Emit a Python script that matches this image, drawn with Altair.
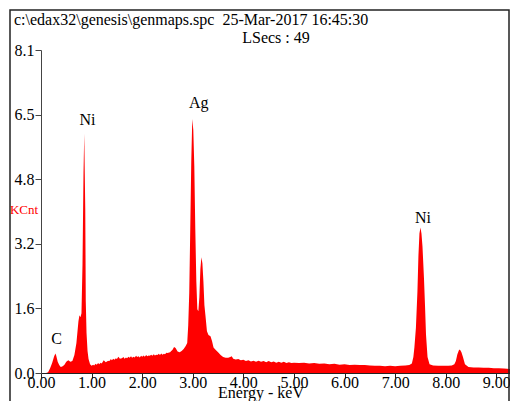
import altair as alt
import pandas as pd

# Spectrum (energy keV, counts in KCnt)
energy = [0.00, 0.10, 0.14, 0.18, 0.22, 0.26, 0.285, 0.30, 0.33, 0.36, 0.39, 0.42, 0.46, 0.50,
          0.54, 0.58, 0.62, 0.66, 0.70, 0.74, 0.76, 0.78, 0.80, 0.82, 0.84, 0.855, 0.865, 0.875,
          0.885, 0.90, 0.92, 0.94, 0.97, 1.00, 1.03, 1.05, 1.08, 1.10, 1.13, 1.15, 1.18, 1.20,
          1.24, 1.28, 1.32, 1.36, 1.38, 1.40, 1.43, 1.45, 1.48, 1.50, 1.53, 1.56, 1.60, 1.63,
          1.65, 1.68, 1.70, 1.73, 1.75, 1.78, 1.80, 1.83, 1.85, 1.88, 1.90, 1.93, 1.95, 1.98,
          2.00, 2.03, 2.05, 2.08, 2.10, 2.13, 2.15, 2.18, 2.20, 2.23, 2.25, 2.28, 2.30, 2.33,
          2.35, 2.38, 2.40, 2.43, 2.45, 2.48, 2.50, 2.55, 2.60, 2.63, 2.66, 2.70, 2.74, 2.78,
          2.82, 2.86, 2.89, 2.91, 2.93, 2.95, 2.97, 2.99, 3.01, 3.03, 3.05, 3.07, 3.09, 3.11,
          3.13, 3.15, 3.17, 3.19, 3.21, 3.23, 3.25, 3.28, 3.31, 3.35, 3.38, 3.41, 3.45, 3.50,
          3.55, 3.60, 3.65, 3.70, 3.74, 3.77, 3.80, 3.85, 3.90, 3.95, 4.00, 4.05, 4.10, 4.15,
          4.20, 4.25, 4.30, 4.35, 4.40, 4.45, 4.50, 4.55, 4.60, 4.65, 4.70, 4.75, 4.80, 4.85,
          4.90, 4.95, 5.00, 5.10, 5.20, 5.30, 5.40, 5.50, 5.60, 5.70, 5.80, 5.90, 6.00, 6.10,
          6.20, 6.30, 6.40, 6.50, 6.60, 6.70, 6.80, 6.90, 7.00, 7.10, 7.20, 7.28, 7.33, 7.36,
          7.38, 7.41, 7.44, 7.46, 7.48, 7.50, 7.52, 7.54, 7.57, 7.59, 7.61, 7.64, 7.68, 7.75,
          7.85, 7.95, 8.05, 8.12, 8.17, 8.20, 8.23, 8.26, 8.28, 8.31, 8.34, 8.38, 8.45, 8.55,
          8.65, 8.75, 8.85, 8.95, 9.05, 9.15, 9.27]
counts = [0.00, 0.00, 0.02, 0.12, 0.25, 0.42, 0.49, 0.44, 0.28, 0.20, 0.15, 0.16, 0.20, 0.28,
          0.32, 0.28, 0.30, 0.45, 0.75, 1.30, 1.45, 1.40, 1.50, 2.70, 5.00, 6.00, 5.00, 4.10,
          1.80, 1.00, 0.55, 0.35, 0.22, 0.18, 0.21, 0.19, 0.23, 0.21, 0.25, 0.22, 0.26, 0.24,
          0.32, 0.27, 0.30, 0.31, 0.35, 0.32, 0.36, 0.33, 0.37, 0.35, 0.41, 0.36, 0.37, 0.40,
          0.36, 0.39, 0.37, 0.41, 0.38, 0.42, 0.38, 0.41, 0.39, 0.43, 0.40, 0.42, 0.39, 0.43,
          0.41, 0.44, 0.41, 0.45, 0.42, 0.44, 0.43, 0.46, 0.43, 0.47, 0.44, 0.46, 0.45, 0.48,
          0.45, 0.49, 0.46, 0.48, 0.47, 0.51, 0.50, 0.52, 0.58, 0.65, 0.63, 0.54, 0.52, 0.55,
          0.60, 0.68, 0.75, 1.20, 2.00, 3.60, 5.30, 6.37, 6.10, 5.20, 3.60, 2.30, 1.60, 1.55,
          1.90, 2.60, 2.90, 2.75, 2.30, 1.70, 1.45, 1.05, 0.95, 0.92, 0.80, 0.64, 0.58, 0.52,
          0.45, 0.40, 0.38, 0.38, 0.40, 0.42, 0.36, 0.34, 0.35, 0.32, 0.33, 0.30, 0.32, 0.29,
          0.31, 0.28, 0.31, 0.28, 0.30, 0.27, 0.30, 0.27, 0.29, 0.26, 0.28, 0.26, 0.28, 0.25,
          0.27, 0.25, 0.26, 0.25, 0.26, 0.24, 0.25, 0.23, 0.24, 0.22, 0.23, 0.21, 0.22, 0.20,
          0.21, 0.20, 0.20, 0.19, 0.18, 0.18, 0.17, 0.18, 0.17, 0.18, 0.19, 0.20, 0.24, 0.40,
          0.64, 1.13, 2.03, 2.94, 3.50, 3.65, 3.50, 3.18, 2.37, 1.70, 0.96, 0.40, 0.22, 0.19,
          0.18, 0.18, 0.18, 0.19, 0.22, 0.30, 0.47, 0.57, 0.59, 0.52, 0.40, 0.22, 0.15, 0.14,
          0.14, 0.13, 0.13, 0.12, 0.12, 0.11, 0.10]

# Peak labels
peak_names = ["C", "Ni", "Ag", "Ni"]
peak_energy = [0.31, 0.92, 3.12, 7.55]
peak_label_y = [0.72, 6.22, 6.64, 3.75]

# Axis ticks
x_ticks = [0, 1, 2, 3, 4, 5, 6, 7, 8, 9]
y_ticks = [0.0, 1.62, 3.24, 4.86, 6.48, 8.1]
y_tick_labels = ["0.0", "1.6", "3.2", "4.8", "6.5", "8.1"]

header_1 = "c:\\edax32\\genesis\\genmaps.spc \u00a025-Mar-2017 16:45:30"
header_2 = "LSecs : 49"
y_title = "KCnt"
x_title = "Energy - keV"

FONT = "Liberation Serif"
W, H = 469, 323

spec = pd.DataFrame({"energy": energy, "counts": counts})
peaks = pd.DataFrame({"name": peak_names, "energy": peak_energy, "y": peak_label_y})
one = pd.DataFrame({"a": [0]})

label_expr = "[" + ",".join("'%s'" % s for s in y_tick_labels) + "][round(datum.value/1.62)]"

xscale = alt.Scale(domain=[0, 9.27], nice=False, zero=False)
yscale = alt.Scale(domain=[0, 8.1], nice=False)

area = alt.Chart(spec).mark_area(color="#ff0000", interpolate="linear", opacity=1).encode(
    x=alt.X("energy:Q", scale=xscale,
            axis=alt.Axis(values=x_ticks, format=".2f", title=None, grid=False,
                          tickSize=5, labelPadding=-4, labelFont=FONT, labelFontSize=16,
                          labelColor="#000", domainColor="#222", tickColor="#222",
                          labelFlush=False, labelOverlap=False)),
    y=alt.Y("counts:Q", scale=yscale,
            axis=alt.Axis(values=y_ticks, labelExpr=label_expr, title=None, grid=False,
                          tickSize=6, labelPadding=1, labelFont=FONT, labelFontSize=16,
                          labelColor="#000", domainColor="#444", tickColor="#444",
                          labelFlush=False, labelOverlap=False)),
)

peak_text = alt.Chart(peaks).mark_text(font=FONT, fontSize=16, color="#000",
                                       baseline="alphabetic", align="center").encode(
    x=alt.X("energy:Q", scale=xscale), y=alt.Y("y:Q", scale=yscale), text="name:N")

frame = alt.Chart(one).mark_rect(fill=None, stroke="#222", strokeWidth=1.5).encode(
    x=alt.value(-31), x2=alt.value(468), y=alt.value(-40), y2=alt.value(400))

t1 = alt.Chart(one).mark_text(font=FONT, fontSize=16, align="left", baseline="alphabetic",
                              color="#000").encode(x=alt.value(-27), y=alt.value(-25),
                                                   text=alt.value(header_1))
t2 = alt.Chart(one).mark_text(font=FONT, fontSize=16, align="center", baseline="alphabetic",
                              color="#000").encode(x=alt.value(235), y=alt.value(-7),
                                                   text=alt.value(header_2))
t3 = alt.Chart(one).mark_text(font=FONT, fontSize=13, align="center", baseline="middle",
                              color="#ff0000").encode(x=alt.value(-17), y=alt.value(160),
                                                      text=alt.value(y_title))
t4 = alt.Chart(one).mark_text(font=FONT, fontSize=16, align="center", baseline="alphabetic",
                              color="#000").encode(x=alt.value(220), y=alt.value(348),
                                                   text=alt.value(x_title))

chart = alt.layer(area, peak_text, frame, t1, t2, t3, t4).properties(
    width=W, height=H,
    autosize=alt.AutoSizeParams(type="none"),
    padding={"left": 33, "top": 42, "right": 0, "bottom": 28},
).configure_view(stroke=None)

chart.save("out.html", embed_options={"renderer": "svg", "actions": False})
